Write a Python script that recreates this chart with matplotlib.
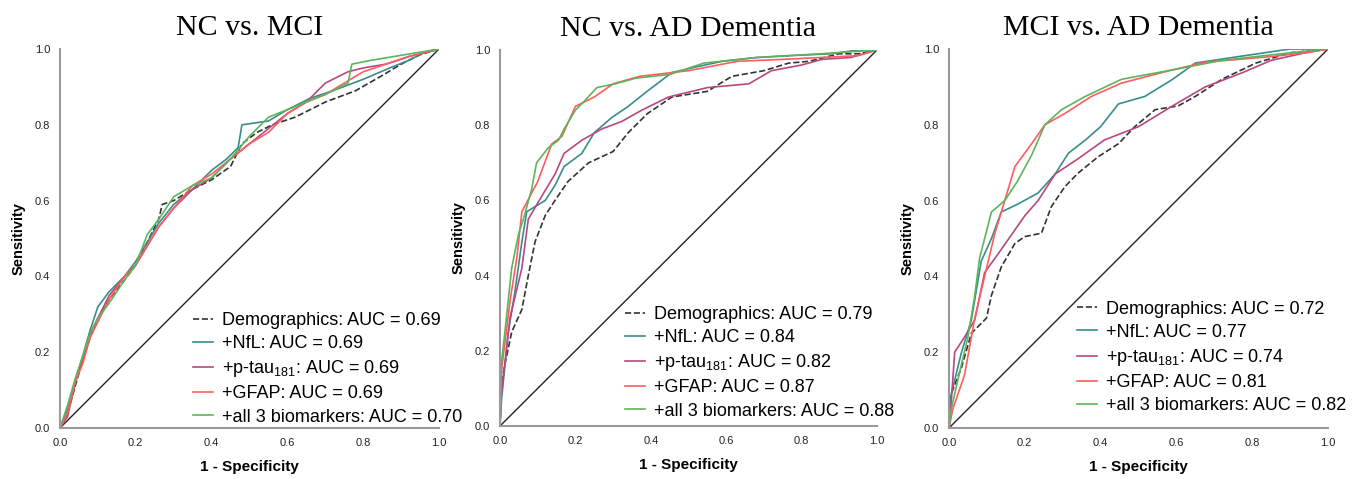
import matplotlib
matplotlib.use("Agg")
import matplotlib.pyplot as plt
import numpy as np

plt.rcParams['font.family'] = ['Liberation Sans', 'DejaVu Sans']

titles = ["NC vs. MCI", "NC vs. AD Dementia", "MCI vs. AD Dementia"]
series_names = ["Demographics", "+NfL", "+p-tau$_{\\mathregular{181}}$", "+GFAP", "+all 3 biomarkers"]
auc = [
    ["0.69", "0.69", "0.69", "0.69", "0.70"],
    ["0.79", "0.84", "0.82", "0.87", "0.88"],
    ["0.72", "0.77", "0.74", "0.81", "0.82"],
]
colors = ["#333333", "#3a8c8e", "#b8487f", "#ff5c60", "#5cb55a"]
styles = ["--", "-", "-", "-", "-"]

# ---- Panel 1: NC vs. MCI  (fpr, tpr) ----
p1_demo_fpr = [0, 0.02, 0.04, 0.06, 0.08, 0.10, 0.13, 0.17, 0.20, 0.23, 0.26, 0.27, 0.30, 0.35, 0.40, 0.45, 0.48, 0.52, 0.56, 0.62, 0.70, 0.78, 0.85, 0.90, 0.95, 1.0]
p1_demo_tpr = [0, 0.04, 0.11, 0.18, 0.24, 0.29, 0.34, 0.39, 0.43, 0.49, 0.55, 0.59, 0.60, 0.63, 0.655, 0.69, 0.75, 0.78, 0.80, 0.82, 0.86, 0.89, 0.93, 0.96, 0.985, 1.0]
p1_nfl_fpr = [0, 0.02, 0.04, 0.06, 0.08, 0.10, 0.13, 0.17, 0.20, 0.23, 0.26, 0.30, 0.35, 0.40, 0.44, 0.47, 0.48, 0.55, 0.60, 0.66, 0.72, 0.80, 0.87, 0.92, 0.96, 1.0]
p1_nfl_tpr = [0, 0.05, 0.12, 0.19, 0.26, 0.32, 0.36, 0.40, 0.44, 0.49, 0.54, 0.59, 0.63, 0.68, 0.71, 0.74, 0.80, 0.81, 0.84, 0.87, 0.89, 0.92, 0.95, 0.97, 0.99, 1.0]
p1_ptau_fpr = [0, 0.02, 0.04, 0.06, 0.08, 0.10, 0.13, 0.17, 0.20, 0.23, 0.26, 0.30, 0.35, 0.40, 0.45, 0.50, 0.55, 0.60, 0.65, 0.70, 0.76, 0.80, 0.86, 0.92, 0.96, 1.0]
p1_ptau_tpr = [0, 0.03, 0.12, 0.18, 0.25, 0.29, 0.35, 0.40, 0.43, 0.48, 0.53, 0.58, 0.63, 0.66, 0.71, 0.75, 0.79, 0.83, 0.86, 0.91, 0.94, 0.95, 0.96, 0.98, 0.99, 1.0]
p1_gfap_fpr = [0, 0.02, 0.04, 0.06, 0.08, 0.10, 0.13, 0.17, 0.20, 0.23, 0.26, 0.30, 0.35, 0.40, 0.45, 0.50, 0.55, 0.60, 0.65, 0.70, 0.75, 0.80, 0.86, 0.92, 0.96, 1.0]
p1_gfap_tpr = [0, 0.04, 0.12, 0.17, 0.24, 0.28, 0.34, 0.40, 0.43, 0.48, 0.53, 0.58, 0.64, 0.67, 0.71, 0.75, 0.78, 0.83, 0.86, 0.88, 0.91, 0.94, 0.96, 0.98, 0.99, 1.0]
p1_all_fpr = [0, 0.02, 0.04, 0.06, 0.08, 0.10, 0.13, 0.17, 0.20, 0.23, 0.26, 0.30, 0.35, 0.40, 0.45, 0.50, 0.55, 0.60, 0.65, 0.70, 0.76, 0.77, 0.82, 0.88, 0.94, 1.0]
p1_all_tpr = [0, 0.06, 0.13, 0.19, 0.25, 0.29, 0.33, 0.39, 0.43, 0.51, 0.55, 0.61, 0.64, 0.66, 0.71, 0.77, 0.82, 0.84, 0.86, 0.88, 0.91, 0.96, 0.97, 0.98, 0.99, 1.0]

# ---- Panel 2: NC vs. AD Dementia ----
p2_demo_fpr = [0, 0.004, 0.031, 0.058, 0.075, 0.093, 0.12, 0.146, 0.18, 0.235, 0.30, 0.34, 0.39, 0.456, 0.55, 0.615, 0.70, 0.765, 0.82, 0.90, 0.95, 1.0]
p2_demo_tpr = [0, 0.12, 0.25, 0.31, 0.40, 0.49, 0.56, 0.60, 0.65, 0.70, 0.73, 0.78, 0.83, 0.875, 0.89, 0.93, 0.945, 0.965, 0.97, 0.99, 0.99, 1.0]
p2_nfl_fpr = [0, 0.004, 0.022, 0.04, 0.058, 0.071, 0.12, 0.146, 0.17, 0.217, 0.25, 0.296, 0.34, 0.39, 0.456, 0.52, 0.59, 0.68, 0.77, 0.88, 0.95, 1.0]
p2_nfl_tpr = [0, 0.07, 0.25, 0.36, 0.49, 0.57, 0.60, 0.64, 0.69, 0.725, 0.78, 0.82, 0.85, 0.89, 0.94, 0.955, 0.97, 0.98, 0.985, 0.99, 1.0, 1.0]
p2_ptau_fpr = [0, 0.004, 0.027, 0.058, 0.075, 0.11, 0.146, 0.17, 0.217, 0.27, 0.323, 0.376, 0.447, 0.55, 0.66, 0.72, 0.80, 0.854, 0.93, 1.0]
p2_ptau_tpr = [0, 0.09, 0.29, 0.42, 0.55, 0.61, 0.67, 0.725, 0.76, 0.79, 0.81, 0.84, 0.875, 0.90, 0.91, 0.945, 0.96, 0.975, 0.98, 1.0]
p2_gfap_fpr = [0, 0.004, 0.013, 0.027, 0.045, 0.058, 0.10, 0.137, 0.164, 0.20, 0.25, 0.30, 0.37, 0.50, 0.63, 0.75, 0.85, 0.95, 1.0]
p2_gfap_tpr = [0, 0.15, 0.22, 0.335, 0.45, 0.57, 0.65, 0.75, 0.77, 0.85, 0.875, 0.91, 0.93, 0.945, 0.97, 0.975, 0.98, 0.985, 1.0]
p2_all_fpr = [0, 0.004, 0.013, 0.022, 0.031, 0.049, 0.062, 0.084, 0.097, 0.128, 0.155, 0.17, 0.20, 0.22, 0.257, 0.305, 0.36, 0.45, 0.54, 0.68, 0.85, 1.0]
p2_all_tpr = [0, 0.17, 0.25, 0.335, 0.42, 0.51, 0.55, 0.63, 0.70, 0.74, 0.76, 0.79, 0.84, 0.86, 0.90, 0.91, 0.925, 0.935, 0.965, 0.98, 0.99, 1.0]

# ---- Panel 3: MCI vs. AD Dementia ----
p3_demo_fpr = [0, 0.006, 0.033, 0.059, 0.099, 0.112, 0.138, 0.174, 0.20, 0.244, 0.27, 0.306, 0.34, 0.394, 0.447, 0.49, 0.544, 0.605, 0.65, 0.72, 0.81, 0.90, 1.0]
p3_demo_tpr = [0, 0.09, 0.16, 0.25, 0.29, 0.35, 0.425, 0.487, 0.505, 0.514, 0.584, 0.637, 0.672, 0.716, 0.75, 0.795, 0.84, 0.85, 0.875, 0.92, 0.963, 0.99, 1.0]
p3_nfl_fpr = [0, 0.006, 0.033, 0.059, 0.085, 0.112, 0.138, 0.18, 0.235, 0.28, 0.315, 0.36, 0.40, 0.447, 0.517, 0.59, 0.65, 0.764, 0.90, 1.0]
p3_nfl_tpr = [0, 0.09, 0.20, 0.285, 0.44, 0.50, 0.57, 0.59, 0.62, 0.67, 0.725, 0.76, 0.795, 0.855, 0.875, 0.92, 0.963, 0.98, 1.0, 1.0]
p3_ptau_fpr = [0, 0.006, 0.015, 0.041, 0.068, 0.094, 0.13, 0.165, 0.20, 0.235, 0.28, 0.34, 0.41, 0.50, 0.59, 0.676, 0.773, 0.85, 0.94, 1.0]
p3_ptau_tpr = [0, 0.07, 0.20, 0.24, 0.285, 0.41, 0.46, 0.51, 0.56, 0.60, 0.67, 0.71, 0.76, 0.795, 0.85, 0.90, 0.937, 0.97, 0.99, 1.0]
p3_gfap_fpr = [0, 0.01, 0.041, 0.068, 0.094, 0.12, 0.147, 0.174, 0.218, 0.253, 0.306, 0.376, 0.455, 0.59, 0.676, 0.85, 0.94, 1.0]
p3_gfap_tpr = [0, 0.05, 0.14, 0.29, 0.40, 0.51, 0.60, 0.69, 0.75, 0.80, 0.83, 0.875, 0.91, 0.945, 0.965, 0.98, 0.99, 1.0]
p3_all_fpr = [0, 0.006, 0.024, 0.05, 0.068, 0.081, 0.094, 0.112, 0.147, 0.18, 0.218, 0.253, 0.297, 0.36, 0.455, 0.59, 0.72, 0.90, 1.0]
p3_all_tpr = [0, 0.05, 0.13, 0.24, 0.35, 0.45, 0.50, 0.57, 0.60, 0.65, 0.72, 0.80, 0.84, 0.875, 0.92, 0.945, 0.97, 0.99, 1.0]

panels = [
    [(p1_demo_fpr, p1_demo_tpr), (p1_nfl_fpr, p1_nfl_tpr), (p1_ptau_fpr, p1_ptau_tpr), (p1_gfap_fpr, p1_gfap_tpr), (p1_all_fpr, p1_all_tpr)],
    [(p2_demo_fpr, p2_demo_tpr), (p2_nfl_fpr, p2_nfl_tpr), (p2_ptau_fpr, p2_ptau_tpr), (p2_gfap_fpr, p2_gfap_tpr), (p2_all_fpr, p2_all_tpr)],
    [(p3_demo_fpr, p3_demo_tpr), (p3_nfl_fpr, p3_nfl_tpr), (p3_ptau_fpr, p3_ptau_tpr), (p3_gfap_fpr, p3_gfap_tpr), (p3_all_fpr, p3_all_tpr)],
]

W, H = 1364, 479
fig = plt.figure(figsize=(W / 100, H / 100), dpi=100)
# axes boxes in pixels: (left, top(y=1.0), right(x=1.0), bottom(y=0))
boxes = [(60, 49, 439, 428), (500, 50, 877, 426), (949, 49, 1328, 428)]
leg_anchor = [(0.35, 0.306), (0.332, 0.319), (0.339, 0.336)]

for i, (l, t, r, b) in enumerate(boxes):
    ax = fig.add_axes([l / W, 1 - b / H, (r - l) / W, (b - t) / H])
    ax.plot([0, 1], [0, 1], color="#222222", lw=1.0, zorder=1)
    for j, (fx, ty) in enumerate(panels[i]):
        ax.plot(fx, ty, color=colors[j], ls=styles[j], lw=1.2,
                label=f"{series_names[j]}: AUC = {auc[i][j]}", zorder=2 + j * 0.1)
    ax.set_xlim(0, 1)
    ax.set_ylim(0, 1)
    ax.set_xticks(np.arange(0, 1.01, 0.2))
    ax.set_yticks(np.arange(0, 1.01, 0.2))
    ax.set_xticklabels([f"{v:.1f}" for v in np.arange(0, 1.01, 0.2)])
    ax.set_yticklabels([f"{v:.1f}" for v in np.arange(0, 1.01, 0.2)])
    ax.tick_params(length=0, labelsize=8, pad=7, colors="#222222")
    for s in ["top", "right"]:
        ax.spines[s].set_visible(False)
    for s in ["left", "bottom"]:
        ax.spines[s].set_color("#9a9a9a")
        ax.spines[s].set_linewidth(1.5)
    ax.set_xlabel("1 - Specificity", fontsize=11, fontweight="bold", labelpad=9)
    ax.set_ylabel("Sensitivity", fontsize=10.5, fontweight="bold", labelpad=7)
    ax.set_title(titles[i], fontsize=21.5, family="Liberation Serif", pad=10)
    leg = ax.legend(loc="upper left", bbox_to_anchor=leg_anchor[i], frameon=False,
                    fontsize=13, handlelength=1.1, handletextpad=0.5,
                    labelspacing=0.34, borderaxespad=0, borderpad=0)
    leg.set_zorder(10)

fig.savefig("out.png", dpi=100, facecolor="white")
